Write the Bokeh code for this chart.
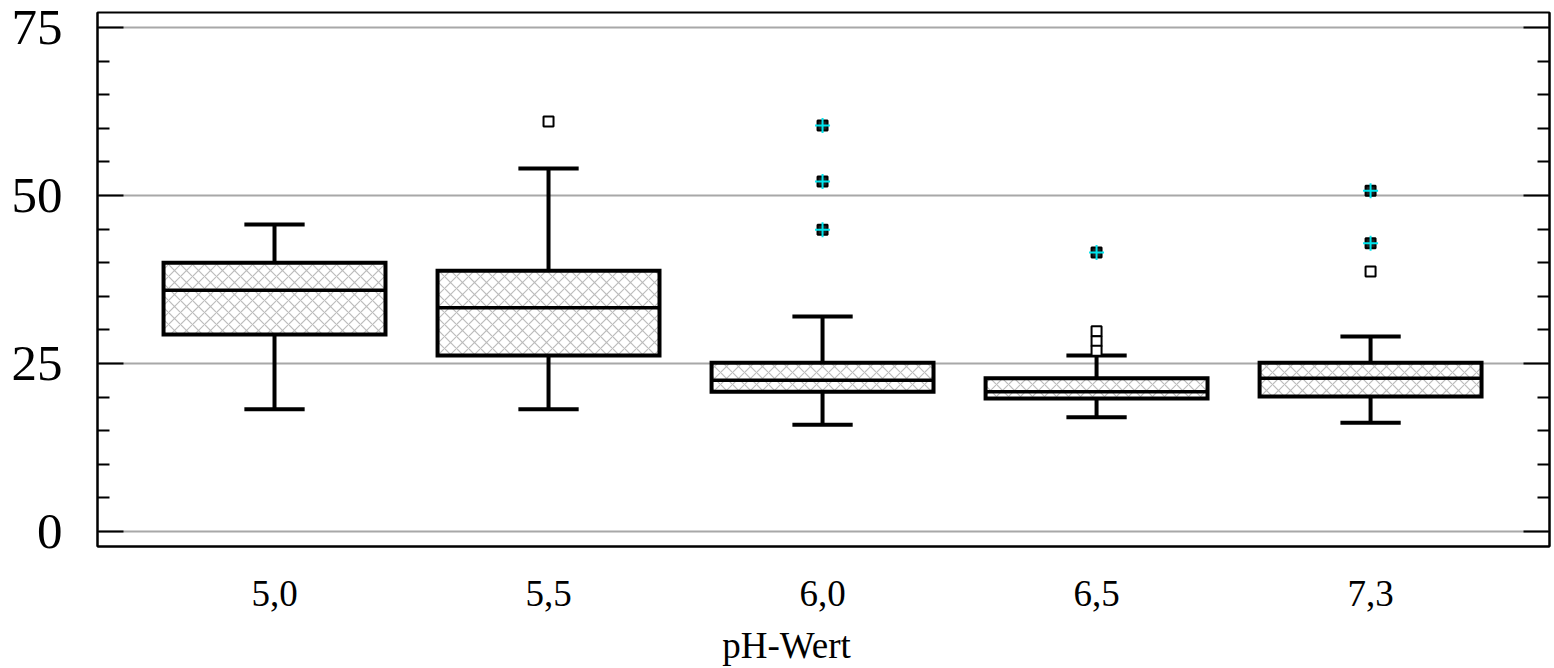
from bokeh.plotting import figure
from bokeh.models import (Range1d, FixedTicker, LinearAxis)
from bokeh.embed import file_html
from bokeh.resources import INLINE

# ---- data ----
categories = ["5,0", "5,5", "6,0", "6,5", "7,3"]
positions = [1, 2, 3, 4, 5]
whisker_low = [18.2, 18.2, 15.9, 17.0, 16.2]
q1 = [29.3, 26.2, 20.8, 19.8, 20.1]
median = [35.9, 33.3, 22.5, 20.8, 22.8]
q3 = [40.0, 38.8, 25.1, 22.8, 25.1]
whisker_high = [45.7, 54.0, 32.0, 26.2, 29.0]

outlier_cat = [2, 4, 4, 4, 5]
outlier_val = [61.0, 29.8, 28.3, 26.9, 38.7]
extreme_cat = [3, 3, 3, 4, 5, 5]
extreme_val = [60.4, 52.1, 44.9, 41.5, 50.7, 42.9]

y_major = [0, 25, 50, 75]
y_minor = [5, 10, 15, 20, 30, 35, 40, 45, 55, 60, 65, 70]
x_label = "pH-Wert"

FONT = "Liberation Serif"
BOX_W = 0.81
CAP_W = 0.22
LW = 4

p = figure(width=1552, height=668, output_backend="svg", toolbar_location=None,
           x_range=Range1d(0.354, 5.653), y_range=Range1d(-2.23, 77.23),
           min_border_left=97, min_border_right=3, min_border_top=12,
           min_border_bottom=122, background_fill_color="white")

p.outline_line_color = "black"
p.outline_line_width = 2
p.outline_line_alpha = 1

# grid
p.xgrid.visible = False
p.ygrid.ticker = FixedTicker(ticks=y_major)
p.ygrid.grid_line_color = "#a8a8a8"
p.ygrid.grid_line_width = 2

# x axis
p.xaxis.ticker = FixedTicker(ticks=positions)
p.xaxis.major_label_overrides = {pos: lab for pos, lab in zip(positions, categories)}
p.xaxis.major_tick_line_color = None
p.xaxis.minor_tick_line_color = None
p.xaxis.axis_line_color = "black"
p.xaxis.axis_line_width = 2
p.xaxis.major_label_text_font = FONT
p.xaxis.major_label_text_font_size = "37px"
p.xaxis.major_label_text_color = "black"
p.xaxis.major_label_standoff = 28
# axis title: trailing no-break spaces shift the centred text slightly left, as in the reference
p.xaxis.axis_label = x_label + "\u00a0" * 8
p.xaxis.axis_label_text_font = FONT
p.xaxis.axis_label_text_font_size = "37px"
p.xaxis.axis_label_text_font_style = "normal"
p.xaxis.axis_label_text_color = "black"
p.xaxis.axis_label_standoff = 16

# y axes
def style_y(ax, labels=True):
    ax.ticker = FixedTicker(ticks=y_major, minor_ticks=y_minor)
    ax.major_tick_in = 26
    ax.major_tick_out = 0
    ax.minor_tick_in = 12
    ax.minor_tick_out = 0
    ax.major_tick_line_width = 2
    ax.minor_tick_line_width = 2
    ax.major_tick_line_color = "black"
    ax.minor_tick_line_color = "black"
    ax.axis_line_color = "black"
    ax.axis_line_width = 2
    if labels:
        ax.major_label_text_font = FONT
        ax.major_label_text_font_size = "51px"
        ax.major_label_text_color = "black"
        ax.major_label_standoff = 35
    else:
        ax.major_label_overrides = {t: "" for t in y_major}
        ax.major_label_standoff = 0

style_y(p.yaxis[0])
right_axis = LinearAxis()
style_y(right_axis, labels=False)
p.add_layout(right_axis, "right")

# boxes
p.vbar(x=positions, width=BOX_W, top=q3, bottom=q1,
       fill_color="white", line_color="black", line_width=LW,
       line_join="miter",
       hatch_pattern="diagonal_cross", hatch_color="#bcbcbc",
       hatch_scale=12, hatch_weight=1.2)

# medians
p.segment(x0=[x - BOX_W / 2 for x in positions], x1=[x + BOX_W / 2 for x in positions],
          y0=median, y1=median, line_color="black", line_width=3.5)

# whiskers
p.segment(x0=positions, x1=positions, y0=q3, y1=whisker_high,
          line_color="black", line_width=LW)
p.segment(x0=positions, x1=positions, y0=q1, y1=whisker_low,
          line_color="black", line_width=LW)
p.segment(x0=[x - CAP_W / 2 for x in positions], x1=[x + CAP_W / 2 for x in positions],
          y0=whisker_high, y1=whisker_high, line_color="black", line_width=LW)
p.segment(x0=[x - CAP_W / 2 for x in positions], x1=[x + CAP_W / 2 for x in positions],
          y0=whisker_low, y1=whisker_low, line_color="black", line_width=LW)

# outliers
p.scatter(x=outlier_cat, y=outlier_val, marker="square", size=10,
          fill_color="white", line_color="black", line_width=2)
p.scatter(x=extreme_cat, y=extreme_val, marker="square", size=10,
          fill_color="#202020", line_color="black", line_width=2)
p.scatter(x=extreme_cat, y=extreme_val, marker="cross", size=15,
          line_color="#00e5ee", line_width=2)

open("out.html", "w").write(file_html(p, INLINE))
